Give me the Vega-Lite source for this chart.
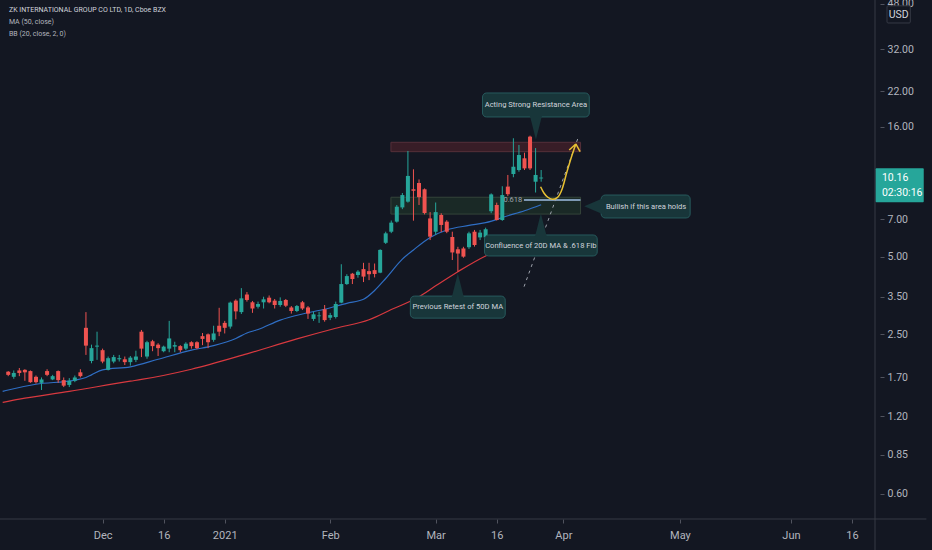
{
  "$schema": "https://vega.github.io/schema/vega-lite/v6.json",
  "description": "ZK International (ZKIN) daily candles with 20D BB basis and 50D MA, with trade annotations",
  "width": 880,
  "height": 519,
  "autosize": {"type": "none"},
  "padding": {"left": 0, "top": 0, "right": 52, "bottom": 31},
  "background": "#131722",
  "config": {
    "view": {"stroke": null},
    "font": "Roboto, sans-serif",
    "text": {"font": "Roboto, sans-serif"}
  },
  "datasets": {
    "candles": [
      {"i": 3, "o": 1.79, "h": 1.80, "l": 1.72, "c": 1.74},
      {"i": 4, "o": 1.71, "h": 1.81, "l": 1.68, "c": 1.77},
      {"i": 5, "o": 1.81, "h": 1.85, "l": 1.72, "c": 1.77},
      {"i": 6, "o": 1.82, "h": 1.83, "l": 1.65, "c": 1.78},
      {"i": 7, "o": 1.80, "h": 1.81, "l": 1.62, "c": 1.63},
      {"i": 8, "o": 1.71, "h": 1.73, "l": 1.61, "c": 1.63},
      {"i": 9, "o": 1.62, "h": 1.70, "l": 1.52, "c": 1.67},
      {"i": 10, "o": 1.80, "h": 1.83, "l": 1.72, "c": 1.74},
      {"i": 11, "o": 1.67, "h": 1.74, "l": 1.66, "c": 1.72},
      {"i": 12, "o": 1.80, "h": 1.81, "l": 1.62, "c": 1.66},
      {"i": 13, "o": 1.66, "h": 1.70, "l": 1.56, "c": 1.58},
      {"i": 14, "o": 1.59, "h": 1.69, "l": 1.56, "c": 1.65},
      {"i": 15, "o": 1.65, "h": 1.73, "l": 1.63, "c": 1.70},
      {"i": 16, "o": 1.78, "h": 1.83, "l": 1.70, "c": 1.72},
      {"i": 17, "o": 2.65, "h": 3.05, "l": 2.08, "c": 2.26},
      {"i": 18, "o": 1.97, "h": 2.28, "l": 1.93, "c": 2.21},
      {"i": 19, "o": 2.24, "h": 2.56, "l": 1.99, "c": 2.26},
      {"i": 20, "o": 2.17, "h": 2.20, "l": 1.93, "c": 1.96},
      {"i": 21, "o": 1.82, "h": 2.05, "l": 1.81, "c": 2.02},
      {"i": 22, "o": 1.96, "h": 2.08, "l": 1.93, "c": 2.04},
      {"i": 23, "o": 2.00, "h": 2.08, "l": 1.96, "c": 2.02},
      {"i": 24, "o": 2.00, "h": 2.05, "l": 1.90, "c": 1.95},
      {"i": 25, "o": 1.95, "h": 2.06, "l": 1.89, "c": 2.03},
      {"i": 26, "o": 1.99, "h": 2.16, "l": 1.95, "c": 2.05},
      {"i": 27, "o": 2.56, "h": 2.60, "l": 2.04, "c": 2.20},
      {"i": 28, "o": 2.05, "h": 2.36, "l": 2.01, "c": 2.33},
      {"i": 29, "o": 2.35, "h": 2.38, "l": 2.15, "c": 2.25},
      {"i": 30, "o": 2.28, "h": 2.31, "l": 2.06, "c": 2.21},
      {"i": 31, "o": 2.15, "h": 2.26, "l": 2.13, "c": 2.24},
      {"i": 32, "o": 2.20, "h": 2.82, "l": 2.13, "c": 2.41},
      {"i": 33, "o": 2.24, "h": 2.34, "l": 2.13, "c": 2.27},
      {"i": 34, "o": 2.25, "h": 2.27, "l": 2.13, "c": 2.17},
      {"i": 35, "o": 2.20, "h": 2.33, "l": 2.17, "c": 2.30},
      {"i": 36, "o": 2.33, "h": 2.35, "l": 2.20, "c": 2.25},
      {"i": 37, "o": 2.33, "h": 2.35, "l": 2.19, "c": 2.21},
      {"i": 38, "o": 2.46, "h": 2.53, "l": 2.27, "c": 2.40},
      {"i": 39, "o": 2.50, "h": 2.52, "l": 2.21, "c": 2.33},
      {"i": 40, "o": 2.38, "h": 2.70, "l": 2.34, "c": 2.52},
      {"i": 41, "o": 2.70, "h": 3.17, "l": 2.46, "c": 2.56},
      {"i": 42, "o": 2.77, "h": 2.82, "l": 2.52, "c": 2.65},
      {"i": 43, "o": 2.68, "h": 3.35, "l": 2.63, "c": 3.32},
      {"i": 44, "o": 3.38, "h": 3.42, "l": 2.86, "c": 3.07},
      {"i": 45, "o": 3.05, "h": 3.78, "l": 3.00, "c": 3.45},
      {"i": 46, "o": 3.57, "h": 3.65, "l": 3.35, "c": 3.40},
      {"i": 47, "o": 3.33, "h": 3.37, "l": 3.03, "c": 3.15},
      {"i": 48, "o": 3.20, "h": 3.35, "l": 3.15, "c": 3.28},
      {"i": 49, "o": 3.33, "h": 3.50, "l": 3.15, "c": 3.42},
      {"i": 50, "o": 3.47, "h": 3.54, "l": 3.30, "c": 3.33},
      {"i": 51, "o": 3.38, "h": 3.43, "l": 3.15, "c": 3.25},
      {"i": 52, "o": 3.25, "h": 3.48, "l": 3.20, "c": 3.37},
      {"i": 53, "o": 3.40, "h": 3.43, "l": 3.19, "c": 3.23},
      {"i": 54, "o": 3.18, "h": 3.22, "l": 3.01, "c": 3.08},
      {"i": 55, "o": 3.08, "h": 3.25, "l": 3.05, "c": 3.22},
      {"i": 56, "o": 3.33, "h": 3.37, "l": 3.11, "c": 3.15},
      {"i": 57, "o": 3.18, "h": 3.22, "l": 2.87, "c": 3.01},
      {"i": 58, "o": 2.87, "h": 3.06, "l": 2.82, "c": 2.99},
      {"i": 59, "o": 2.94, "h": 3.06, "l": 2.77, "c": 2.96},
      {"i": 60, "o": 3.13, "h": 3.25, "l": 2.80, "c": 2.84},
      {"i": 61, "o": 2.90, "h": 3.03, "l": 2.84, "c": 2.97},
      {"i": 62, "o": 2.92, "h": 3.35, "l": 2.88, "c": 3.28},
      {"i": 63, "o": 3.32, "h": 4.68, "l": 3.30, "c": 3.92},
      {"i": 64, "o": 3.92, "h": 4.28, "l": 3.89, "c": 4.21},
      {"i": 65, "o": 4.30, "h": 4.33, "l": 3.92, "c": 4.10},
      {"i": 66, "o": 4.25, "h": 4.44, "l": 4.15, "c": 4.38},
      {"i": 67, "o": 4.48, "h": 4.74, "l": 3.99, "c": 4.19},
      {"i": 68, "o": 4.40, "h": 4.74, "l": 4.06, "c": 4.28},
      {"i": 69, "o": 4.44, "h": 4.71, "l": 4.16, "c": 4.29},
      {"i": 70, "o": 4.34, "h": 5.35, "l": 4.32, "c": 5.32},
      {"i": 71, "o": 5.67, "h": 6.26, "l": 5.61, "c": 6.17},
      {"i": 72, "o": 6.26, "h": 6.92, "l": 6.18, "c": 6.79},
      {"i": 73, "o": 6.85, "h": 7.95, "l": 6.79, "c": 7.83},
      {"i": 74, "o": 7.78, "h": 8.85, "l": 7.66, "c": 8.69},
      {"i": 75, "o": 8.19, "h": 12.89, "l": 8.12, "c": 10.31},
      {"i": 76, "o": 9.15, "h": 10.94, "l": 6.91, "c": 9.03},
      {"i": 77, "o": 9.68, "h": 9.99, "l": 7.95, "c": 8.53},
      {"i": 78, "o": 9.15, "h": 9.22, "l": 7.31, "c": 7.40},
      {"i": 79, "o": 7.05, "h": 7.46, "l": 5.81, "c": 5.99},
      {"i": 80, "o": 6.26, "h": 8.13, "l": 6.08, "c": 7.46},
      {"i": 81, "o": 7.27, "h": 7.38, "l": 6.24, "c": 6.65},
      {"i": 82, "o": 6.85, "h": 6.94, "l": 6.18, "c": 6.26},
      {"i": 83, "o": 5.97, "h": 6.26, "l": 4.86, "c": 5.20},
      {"i": 84, "o": 5.35, "h": 5.47, "l": 4.38, "c": 5.15},
      {"i": 85, "o": 5.39, "h": 5.47, "l": 4.96, "c": 5.01},
      {"i": 86, "o": 5.45, "h": 6.26, "l": 5.37, "c": 6.17},
      {"i": 87, "o": 6.26, "h": 6.36, "l": 5.48, "c": 5.56},
      {"i": 88, "o": 5.95, "h": 6.36, "l": 5.81, "c": 6.21},
      {"i": 89, "o": 5.95, "h": 6.49, "l": 5.88, "c": 6.40},
      {"i": 90, "o": 7.52, "h": 8.82, "l": 7.39, "c": 8.74},
      {"i": 91, "o": 7.95, "h": 8.12, "l": 6.92, "c": 6.95},
      {"i": 92, "o": 6.95, "h": 9.40, "l": 6.90, "c": 8.69},
      {"i": 93, "o": 9.37, "h": 10.40, "l": 8.61, "c": 8.76},
      {"i": 94, "o": 10.49, "h": 14.44, "l": 10.19, "c": 11.20},
      {"i": 95, "o": 10.87, "h": 13.60, "l": 10.71, "c": 12.43},
      {"i": 96, "o": 12.07, "h": 12.69, "l": 10.87, "c": 11.03},
      {"i": 97, "o": 14.65, "h": 14.78, "l": 10.87, "c": 11.03},
      {"i": 98, "o": 9.79, "h": 13.23, "l": 8.89, "c": 10.40},
      {"i": 99, "o": 10.08, "h": 10.87, "l": 9.79, "c": 10.16}
    ],
    "lines": [
      {"s": "BB basis", "i": 2, "p": 1.50},
      {"s": "BB basis", "i": 3, "p": 1.52},
      {"s": "BB basis", "i": 8, "p": 1.60},
      {"s": "BB basis", "i": 15, "p": 1.66},
      {"s": "BB basis", "i": 17, "p": 1.70},
      {"s": "BB basis", "i": 18, "p": 1.74},
      {"s": "BB basis", "i": 20, "p": 1.82},
      {"s": "BB basis", "i": 25, "p": 1.87},
      {"s": "BB basis", "i": 30, "p": 2.00},
      {"s": "BB basis", "i": 36, "p": 2.17},
      {"s": "BB basis", "i": 40, "p": 2.26},
      {"s": "BB basis", "i": 44, "p": 2.41},
      {"s": "BB basis", "i": 46, "p": 2.53},
      {"s": "BB basis", "i": 48, "p": 2.61},
      {"s": "BB basis", "i": 52, "p": 2.84},
      {"s": "BB basis", "i": 56, "p": 3.00},
      {"s": "BB basis", "i": 60, "p": 3.13},
      {"s": "BB basis", "i": 64, "p": 3.30},
      {"s": "BB basis", "i": 67, "p": 3.42},
      {"s": "BB basis", "i": 69, "p": 3.70},
      {"s": "BB basis", "i": 71, "p": 4.12},
      {"s": "BB basis", "i": 74, "p": 4.90},
      {"s": "BB basis", "i": 76, "p": 5.32},
      {"s": "BB basis", "i": 79, "p": 5.95},
      {"s": "BB basis", "i": 82, "p": 6.36},
      {"s": "BB basis", "i": 86, "p": 6.62},
      {"s": "BB basis", "i": 89, "p": 6.79},
      {"s": "BB basis", "i": 93, "p": 7.22},
      {"s": "BB basis", "i": 96, "p": 7.55},
      {"s": "BB basis", "i": 99, "p": 7.97},
      {"s": "MA 50", "i": 2, "p": 1.36},
      {"s": "MA 50", "i": 5, "p": 1.40},
      {"s": "MA 50", "i": 14, "p": 1.50},
      {"s": "MA 50", "i": 25, "p": 1.645},
      {"s": "MA 50", "i": 27, "p": 1.67},
      {"s": "MA 50", "i": 36, "p": 1.83},
      {"s": "MA 50", "i": 46, "p": 2.10},
      {"s": "MA 50", "i": 55, "p": 2.40},
      {"s": "MA 50", "i": 62, "p": 2.64},
      {"s": "MA 50", "i": 68, "p": 2.85},
      {"s": "MA 50", "i": 72, "p": 3.12},
      {"s": "MA 50", "i": 77, "p": 3.50},
      {"s": "MA 50", "i": 80, "p": 3.86},
      {"s": "MA 50", "i": 84, "p": 4.38},
      {"s": "MA 50", "i": 89, "p": 5.04},
      {"s": "MA 50", "i": 95, "p": 5.64},
      {"s": "MA 50", "i": 99, "p": 6.18}
    ]
  },
  "layer": [
    {
      "data": {"values": [{"k": "resistance", "i": 71.94, "i2": 106.1, "p": 13.93, "p2": 12.81}]},
      "mark": {"type": "rect", "fill": "#381d27", "stroke": "#55303a", "strokeWidth": 1},
      "encoding": {
        "x": {
          "field": "i", "type": "quantitative", "title": null,
          "scale": {"domain": [2.42, 159.14], "nice": false, "zero": false},
          "axis": {
            "values": [20, 31, 42, 61, 80, 91, 103, 124, 144, 155],
            "labelExpr": "datum.value == 20 ? 'Dec' : datum.value == 31 ? '16' : datum.value == 42 ? '2021' : datum.value == 61 ? 'Feb' : datum.value == 80 ? 'Mar' : datum.value == 91 ? '16' : datum.value == 103 ? 'Apr' : datum.value == 124 ? 'May' : datum.value == 144 ? 'Jun' : '16'",
            "domain": false, "grid": false, "tickSize": 4, "tickColor": "#50535e",
            "labelColor": "#b2b5be", "labelFontSize": 11, "labelPadding": 6,
            "labelFlush": false, "labelOverlap": false, "labelBound": false,
            "labelFont": "Roboto, sans-serif"
          }
        },
        "x2": {"field": "i2"},
        "y": {
          "field": "p", "type": "quantitative", "title": null,
          "scale": {"type": "log", "domain": [0.4794, 49.73], "nice": false, "zero": false},
          "axis": {
            "orient": "right",
            "values": [0.6, 0.85, 1.2, 1.7, 2.5, 3.5, 5, 7, 16, 22, 32, 48],
            "format": ".2f", "domain": false, "grid": false, "tickSize": 4, "tickColor": "#50535e",
            "labelColor": "#b2b5be", "labelFontSize": 10.5, "labelPadding": 3,
            "labelFlush": false, "labelOverlap": false, "labelBound": false,
            "labelFont": "Roboto, sans-serif"
          }
        },
        "y2": {"field": "p2"}
      }
    },
    {
      "data": {"values": [{"k": "fib", "i": 71.94, "i2": 106.1, "p": 8.52, "p2": 7.33}]},
      "mark": {"type": "rect", "fill": "#1a2926", "stroke": "#34443a", "strokeWidth": 1},
      "encoding": {
        "x": {"field": "i", "type": "quantitative", "title": null},
        "x2": {"field": "i2"},
        "y": {"field": "p", "type": "quantitative", "title": null},
        "y2": {"field": "p2"}
      }
    },
    {
      "mark": {"type": "rule", "color": "#3b4c5e", "strokeWidth": 1},
      "encoding": {
        "y": {"datum": 10.16, "type": "quantitative"}
      }
    },
    {
      "data": {"name": "lines"},
      "mark": {"type": "line", "strokeWidth": 1.2, "interpolate": "monotone", "clip": true},
      "encoding": {
        "x": {"field": "i", "type": "quantitative", "title": null},
        "y": {"field": "p", "type": "quantitative", "title": null},
        "color": {"field": "s", "type": "nominal", "legend": null,
          "scale": {"domain": ["BB basis", "MA 50"], "range": ["#2f6ec4", "#d8393f"]}}
      }
    },
    {
      "data": {"name": "candles"},
      "mark": {"type": "rule", "strokeWidth": 1},
      "encoding": {
        "x": {"field": "i", "type": "quantitative", "title": null},
        "y": {"field": "l", "type": "quantitative", "title": null},
        "y2": {"field": "h"},
        "stroke": {"condition": {"test": "datum.c >= datum.o", "value": "#26a69a"}, "value": "#ef5350"}
      }
    },
    {
      "data": {"name": "candles"},
      "mark": {"type": "bar", "size": 4},
      "encoding": {
        "x": {"field": "i", "type": "quantitative", "title": null},
        "y": {"field": "o", "type": "quantitative", "title": null},
        "y2": {"field": "c"},
        "fill": {"condition": {"test": "datum.c >= datum.o", "value": "#26a69a"}, "value": "#ef5350"}
      }
    },
    {
      "data": {"values": [{"i": 95.9, "i2": 106.1, "p": 8.31}]},
      "mark": {"type": "rule", "color": "#7d98b3", "strokeWidth": 2},
      "encoding": {
        "x": {"field": "i", "type": "quantitative", "title": null},
        "x2": {"field": "i2"},
        "y": {"field": "p", "type": "quantitative", "title": null}
      }
    },
    {
      "data": {"values": [{"t": "0.618", "i": 95.6, "p": 8.31}]},
      "mark": {"type": "text", "align": "right", "baseline": "middle", "fontSize": 7.5, "color": "#9ea3ad"},
      "encoding": {
        "x": {"field": "i", "type": "quantitative", "title": null},
        "y": {"field": "p", "type": "quantitative", "title": null},
        "text": {"field": "t"}
      }
    },
    {
      "data": {"values": [{"i": 95.92, "p": 3.83}, {"i": 105.73, "p": 14.64}]},
      "mark": {"type": "line", "color": "#9ea3ad", "strokeWidth": 1, "strokeDash": [3, 4]},
      "encoding": {
        "x": {"field": "i", "type": "quantitative", "title": null},
        "y": {"field": "p", "type": "quantitative", "title": null}
      }
    },
    {
      "data": {"values": [
        {"i": 98.9, "p": 9.36}, {"i": 99.5, "p": 8.85}, {"i": 100.2, "p": 8.52},
        {"i": 101.0, "p": 8.37}, {"i": 101.9, "p": 8.50}, {"i": 102.8, "p": 9.20},
        {"i": 103.6, "p": 10.6}, {"i": 104.4, "p": 12.1}, {"i": 105.24, "p": 13.72}
      ]},
      "mark": {"type": "line", "color": "#e8c132", "strokeWidth": 1.5, "interpolate": "monotone"},
      "encoding": {
        "x": {"field": "i", "type": "quantitative", "title": null},
        "y": {"field": "p", "type": "quantitative", "title": null}
      }
    },
    {
      "data": {"values": [
        {"i": 105.24, "p": 13.72, "i2": 104.06, "p2": 13.0},
        {"i": 105.24, "p": 13.72, "i2": 106.02, "p2": 12.81}
      ]},
      "mark": {"type": "rule", "color": "#e8c132", "strokeWidth": 1.5},
      "encoding": {
        "x": {"field": "i", "type": "quantitative", "title": null},
        "y": {"field": "p", "type": "quantitative", "title": null},
        "x2": {"field": "i2"},
        "y2": {"field": "p2"}
      }
    },
    {
      "data": {"values": [
        {"t": "Acting Strong Resistance Area", "i": 88.44, "i2": 107.67, "p": 21.65, "p2": 17.47},
        {"t": "Confluence of 20D MA & .618 Fib", "i": 88.8, "i2": 109.1, "p": 6.08, "p2": 5.04},
        {"t": "Previous Retest of 50D MA", "i": 75.44, "i2": 92.53, "p": 3.52, "p2": 2.89},
        {"t": "Bullish if  this area holds", "i": 109.81, "i2": 125.84, "p": 8.69, "p2": 7.08}
      ]},
      "mark": {"type": "rect", "fill": "#18363a", "stroke": "#275a5d", "strokeWidth": 1, "cornerRadius": 4},
      "encoding": {
        "x": {"field": "i", "type": "quantitative", "title": null},
        "x2": {"field": "i2"},
        "y": {"field": "p", "type": "quantitative", "title": null},
        "y2": {"field": "p2"}
      }
    },
    {
      "data": {"values": [
        {"d": "down", "i": 98.06, "p": 15.83},
        {"d": "up", "i": 98.95, "p": 6.65},
        {"d": "up", "i": 83.99, "p": 3.89},
        {"d": "left", "i": 108.48, "p": 7.86}
      ]},
      "mark": {"type": "point", "filled": true, "size": 529, "opacity": 1, "color": "#18363a"},
      "encoding": {
        "x": {"field": "i", "type": "quantitative", "title": null},
        "y": {"field": "p", "type": "quantitative", "title": null},
        "shape": {"field": "d", "type": "nominal", "legend": null,
          "scale": {"domain": ["down", "up", "left"],
            "range": ["M-0.52,-1.05L0.52,-1.05L0,1Z", "M-0.52,1.05L0.52,1.05L0,-1Z", "M0.9,-0.74L0.9,0.74L-0.83,0Z"]}}
      }
    },
    {
      "data": {"values": [
        {"t": "Acting Strong Resistance Area", "i": 98.06, "p": 19.44},
        {"t": "Confluence of 20D MA & .618 Fib", "i": 98.95, "p": 5.53},
        {"t": "Previous Retest of 50D MA", "i": 83.99, "p": 3.19},
        {"t": "Bullish if  this area holds", "i": 117.9, "p": 7.84}
      ]},
      "mark": {"type": "text", "align": "center", "baseline": "middle", "fontSize": 7.6, "color": "#d1d4dc"},
      "encoding": {
        "x": {"field": "i", "type": "quantitative", "title": null},
        "y": {"field": "p", "type": "quantitative", "title": null},
        "text": {"field": "t"}
      }
    },
    {
      "data": {"values": [
        {"t": "ZK INTERNATIONAL GROUP CO LTD, 1D, Cboe BZX", "i": 3.13, "p": 45.5}
      ]},
      "mark": {"type": "text", "align": "left", "baseline": "middle", "fontSize": 7, "color": "#d1d4dc"},
      "encoding": {
        "x": {"field": "i", "type": "quantitative", "title": null},
        "y": {"field": "p", "type": "quantitative", "title": null},
        "text": {"field": "t"}
      }
    },
    {
      "data": {"values": [
        {"t": "MA (50, close)", "i": 3.13, "p": 40.85},
        {"t": "BB (20, close, 2, 0)", "i": 3.13, "p": 36.7}
      ]},
      "mark": {"type": "text", "align": "left", "baseline": "middle", "fontSize": 7, "color": "#b2b5be"},
      "encoding": {
        "x": {"field": "i", "type": "quantitative", "title": null},
        "y": {"field": "p", "type": "quantitative", "title": null},
        "text": {"field": "t"}
      }
    },
    {
      "data": {"values": [
        {"i": -5, "i2": 168.4, "p": 0.4794, "p2": 0.4794},
        {"i": 159.14, "i2": 159.14, "p": 0.36, "p2": 49.73}
      ]},
      "mark": {"type": "rule", "color": "#363a45", "strokeWidth": 1},
      "encoding": {
        "x": {"field": "i", "type": "quantitative", "title": null},
        "x2": {"field": "i2"},
        "y": {"field": "p", "type": "quantitative", "title": null},
        "y2": {"field": "p2"}
      }
    },
    {
      "data": {"values": [{"i": 159.26, "i2": 167.92, "p": 11.04, "p2": 8.14}]},
      "mark": {"type": "rect", "fill": "#26a69a", "cornerRadius": 1},
      "encoding": {
        "x": {"field": "i", "type": "quantitative", "title": null},
        "x2": {"field": "i2"},
        "y": {"field": "p", "type": "quantitative", "title": null},
        "y2": {"field": "p2"}
      }
    },
    {
      "data": {"values": [{"i": 161.3, "i2": 165.5, "p": 47.2, "p2": 40.49}]},
      "mark": {"type": "rect", "fill": "#131722", "stroke": "#363a45", "strokeWidth": 1, "cornerRadius": 1},
      "encoding": {
        "x": {"field": "i", "type": "quantitative", "title": null},
        "x2": {"field": "i2"},
        "y": {"field": "p", "type": "quantitative", "title": null},
        "y2": {"field": "p2"}
      }
    },
    {
      "data": {"values": [
        {"t": "10.16", "i": 160.39, "p": 10.12},
        {"t": "02:30:16", "i": 160.39, "p": 8.83}
      ]},
      "mark": {"type": "text", "align": "left", "baseline": "middle", "fontSize": 10.5, "color": "#ffffff"},
      "encoding": {
        "x": {"field": "i", "type": "quantitative", "title": null},
        "y": {"field": "p", "type": "quantitative", "title": null},
        "text": {"field": "t"}
      }
    },
    {
      "data": {"values": [{"t": "USD", "i": 163.4, "p": 43.6}]},
      "mark": {"type": "text", "align": "center", "baseline": "middle", "fontSize": 10.5, "color": "#d1d4dc"},
      "encoding": {
        "x": {"field": "i", "type": "quantitative", "title": null},
        "y": {"field": "p", "type": "quantitative", "title": null},
        "text": {"field": "t"}
      }
    }
  ]
}
